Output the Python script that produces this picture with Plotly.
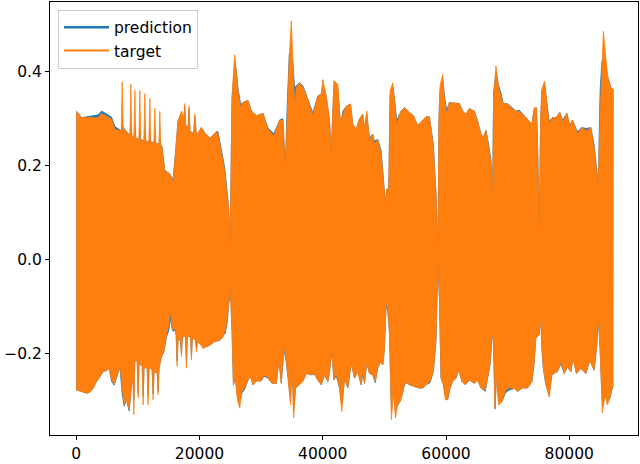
import plotly.graph_objects as go

# ================= upper envelope =================
up_x_a = [0, 870, 3560, 4110, 4920, 5730, 6270, 6970]
up_t_a = [0.316, 0.302, 0.302, 0.311, 0.305, 0.299, 0.277, 0.274]
up_p_a = [0.316, 0.302, 0.308, 0.316, 0.310, 0.303, 0.283, 0.276]

up_x_b = [7300, 7450, 7600, 8160, 8710, 8860, 9010, 9360, 9510, 9660, 10170, 10320, 10470, 10980, 11130,
          11280, 11790, 11940, 12090, 12600, 12750, 12900, 13410, 13560, 13710, 13880]
up_t_b = [0.274, 0.378, 0.280, 0.272, 0.265, 0.373, 0.262, 0.260, 0.360, 0.258, 0.256, 0.360, 0.255, 0.253, 0.353,
          0.252, 0.250, 0.343, 0.250, 0.249, 0.322, 0.248, 0.245, 0.315, 0.243, 0.242]
up_p_b = [0.274, 0.290, 0.282, 0.272, 0.265, 0.290, 0.262, 0.260, 0.285, 0.258, 0.256, 0.280, 0.255, 0.253, 0.275,
          0.252, 0.250, 0.270, 0.250, 0.249, 0.265, 0.248, 0.245, 0.260, 0.243, 0.242]

up_x_c = [14370, 15180, 15710, 16150, 16520, 17070, 17460, 17610, 17760, 18160, 18310, 18460, 19080, 19230,
          19380, 19500, 20310, 20850, 21660, 22740, 23000, 23550, 24090, 24460, 24740, 24950]
up_t_c = [0.189, 0.182, 0.165, 0.235, 0.295, 0.316, 0.300, 0.332, 0.285, 0.282, 0.327, 0.272, 0.270, 0.310,
          0.266, 0.264, 0.281, 0.270, 0.258, 0.272, 0.267, 0.225, 0.189, 0.140, 0.108, 0.020]
up_p_c = [0.190, 0.182, 0.170, 0.235, 0.295, 0.310, 0.300, 0.325, 0.285, 0.282, 0.320, 0.272, 0.270, 0.305,
          0.266, 0.264, 0.281, 0.270, 0.258, 0.272, 0.272, 0.232, 0.196, 0.146, 0.112, 0.025]

up_x_d = [25150, 25280, 25710, 25980, 26250, 26680, 27060, 27860, 28410, 29220, 30300, 31100, 32080, 33000,
          33530, 33920, 34240, 34570, 34890, 35160, 35430, 35700, 36240, 36770, 37580, 38390, 39200, 39750,
          40010, 40560, 41100, 41370, 41800, 42440, 42880, 43250, 43800, 44500, 44870, 45420, 45960, 46490,
          46770, 47140, 47580, 48110, 48390, 48920, 49470, 49850, 50170, 50380, 50710]
up_t_d = [0.300, 0.345, 0.436, 0.398, 0.359, 0.323, 0.334, 0.339, 0.316, 0.306, 0.311, 0.278, 0.263, 0.297,
          0.296, 0.189, 0.334, 0.429, 0.508, 0.419, 0.330, 0.366, 0.376, 0.366, 0.341, 0.306, 0.348, 0.352,
          0.383, 0.348, 0.295, 0.218, 0.381, 0.373, 0.288, 0.309, 0.326, 0.331, 0.288, 0.278, 0.299, 0.309,
          0.278, 0.316, 0.253, 0.267, 0.246, 0.256, 0.225, 0.168, 0.112, 0.150, 0.152]
up_p_d = [0.300, 0.345, 0.420, 0.400, 0.365, 0.330, 0.334, 0.339, 0.316, 0.306, 0.311, 0.280, 0.268, 0.297,
          0.300, 0.195, 0.334, 0.438, 0.430, 0.420, 0.365, 0.370, 0.376, 0.370, 0.341, 0.312, 0.348, 0.352,
          0.370, 0.348, 0.295, 0.225, 0.370, 0.365, 0.288, 0.315, 0.326, 0.331, 0.288, 0.278, 0.299, 0.309,
          0.278, 0.310, 0.258, 0.267, 0.252, 0.256, 0.232, 0.176, 0.118, 0.150, 0.152]

up_x_e = [50930, 51350, 51680, 52000, 52710, 53250, 54060, 54710, 55400, 56120, 56770, 57300, 57570, 57950,
          58380, 58680, 58850, 59030, 59460, 59730, 60100, 60540, 61350, 62160, 62700, 63240, 63780, 64590,
          65120, 65670, 66050, 66480, 66910, 67290, 67550, 67720, 68100, 68530, 68910, 69290, 69980, 70530,
          71340, 71880, 72690, 73500, 73940, 74310, 74680, 74910, 75120, 75350, 75560, 75980, 76300, 76740,
          77270, 77820, 78470, 78890, 79610, 80090, 80520, 81320, 82040, 82780, 83490, 84030, 84470, 84680,
          85000, 85280, 85540, 85920, 86350, 86730, 87110]
up_t_e = [0.359, 0.376, 0.334, 0.288, 0.316, 0.323, 0.313, 0.306, 0.285, 0.295, 0.304, 0.304, 0.281, 0.239,
          0.133, 0.000, 0.300, 0.369, 0.394, 0.345, 0.309, 0.334, 0.333, 0.332, 0.316, 0.309, 0.321, 0.316,
          0.295, 0.267, 0.260, 0.275, 0.239, 0.203, 0.119, 0.341, 0.412, 0.366, 0.348, 0.331, 0.332, 0.323,
          0.316, 0.315, 0.306, 0.295, 0.288, 0.323, 0.323, 0.210, 0.030, 0.300, 0.362, 0.380, 0.334, 0.288,
          0.302, 0.302, 0.313, 0.292, 0.311, 0.285, 0.297, 0.267, 0.281, 0.274, 0.281, 0.239, 0.182, 0.150,
          0.309, 0.415, 0.486, 0.429, 0.380, 0.366, 0.362]
up_p_e = [0.350, 0.370, 0.338, 0.296, 0.316, 0.323, 0.313, 0.306, 0.285, 0.295, 0.304, 0.304, 0.281, 0.245,
          0.140, 0.005, 0.300, 0.360, 0.385, 0.350, 0.318, 0.334, 0.333, 0.332, 0.316, 0.309, 0.321, 0.316,
          0.295, 0.267, 0.260, 0.275, 0.245, 0.212, 0.125, 0.355, 0.400, 0.370, 0.355, 0.331, 0.332, 0.326,
          0.316, 0.318, 0.306, 0.295, 0.288, 0.320, 0.323, 0.218, 0.035, 0.300, 0.360, 0.375, 0.338, 0.294,
          0.302, 0.302, 0.313, 0.297, 0.311, 0.285, 0.297, 0.272, 0.281, 0.279, 0.281, 0.245, 0.190, 0.155,
          0.360, 0.420, 0.430, 0.395, 0.385, 0.366, 0.362]

# ================= lower envelope =================
lo_x_a = [0, 600, 1680, 2220, 2750, 3300, 3840, 4370, 4920, 5350, 5730, 6160, 6640, 7080]
lo_t_a = [-0.277, -0.280, -0.284, -0.282, -0.273, -0.259, -0.249, -0.238, -0.236, -0.231, -0.256, -0.265, -0.245, -0.225]
lo_p_a = [-0.277, -0.280, -0.284, -0.282, -0.273, -0.259, -0.249, -0.238, -0.236, -0.231, -0.259, -0.267, -0.245, -0.228]

lo_x_b = [7450, 7780, 8160, 8590, 8970, 9200, 9350, 9500, 9890, 10040, 10190, 10700, 10850, 11000, 11510,
          11660, 11810, 12320, 12470, 12620, 13130, 13280, 13430, 13830]
lo_t_b = [-0.273, -0.309, -0.298, -0.319, -0.266, -0.250, -0.330, -0.215, -0.215, -0.294, -0.222, -0.225, -0.309, -0.230, -0.230,
          -0.309, -0.228, -0.235, -0.298, -0.240, -0.240, -0.287, -0.231, -0.206]
lo_p_b = [-0.285, -0.312, -0.298, -0.322, -0.266, -0.250, -0.300, -0.215, -0.215, -0.285, -0.222, -0.225, -0.290, -0.230, -0.230,
          -0.290, -0.228, -0.235, -0.285, -0.240, -0.240, -0.280, -0.231, -0.206]

lo_x_c = [14210, 14640, 15020, 15290, 15620, 15990, 16210, 16360, 16510, 16920, 17070, 17220, 17730, 17880, 18030,
          18540, 18690, 18840, 19350, 19500, 19650, 20040, 20570, 21120, 21660, 22470, 23280, 23810, 24200, 24530,
          24740, 25010]
lo_t_c = [-0.196, -0.160, -0.139, -0.111, -0.150, -0.146, -0.160, -0.227, -0.170, -0.172, -0.206, -0.165, -0.162, -0.231, -0.162,
          -0.165, -0.213, -0.167, -0.170, -0.196, -0.175, -0.178, -0.189, -0.185, -0.182, -0.174, -0.172, -0.164, -0.150, -0.125,
          -0.090, -0.061]
lo_p_c = [-0.196, -0.165, -0.150, -0.125, -0.152, -0.150, -0.160, -0.215, -0.170, -0.172, -0.200, -0.165, -0.162, -0.220, -0.162,
          -0.165, -0.205, -0.167, -0.170, -0.190, -0.175, -0.178, -0.185, -0.185, -0.182, -0.174, -0.172, -0.164, -0.156, -0.130,
          -0.095, -0.065]

lo_x_d = [25280, 25500, 25820, 26150, 26520, 26890, 27330, 27860, 28300, 28670, 29220, 30030, 30460, 31100, 31750,
          32460, 32890, 33270, 33700, 34080, 34460, 34780, 34990, 35270, 35590, 36240, 36770, 37320, 38130, 38670,
          39200, 39750, 40290, 40820, 41100, 41470, 41800, 42180, 42720, 43090, 43530, 44060, 44610, 45150, 45680,
          46230, 46490, 46770, 47140, 47580, 48110, 48510, 48920, 49310, 49740, 50010, 50280, 50540, 50820]
lo_t_d = [-0.153, -0.266, -0.252, -0.298, -0.316, -0.280, -0.273, -0.256, -0.249, -0.266, -0.258, -0.258, -0.245, -0.252, -0.263,
          -0.263, -0.213, -0.263, -0.185, -0.213, -0.259, -0.309, -0.210, -0.337, -0.273, -0.266, -0.259, -0.242, -0.245, -0.244,
          -0.256, -0.266, -0.245, -0.259, -0.238, -0.189, -0.256, -0.242, -0.273, -0.323, -0.252, -0.273, -0.220, -0.252, -0.238,
          -0.266, -0.238, -0.263, -0.220, -0.242, -0.245, -0.259, -0.231, -0.217, -0.224, -0.189, -0.090, -0.104, -0.153]
lo_p_d = [-0.153, -0.266, -0.252, -0.290, -0.300, -0.283, -0.276, -0.256, -0.249, -0.266, -0.258, -0.258, -0.248, -0.252, -0.263,
          -0.263, -0.213, -0.263, -0.190, -0.218, -0.259, -0.300, -0.210, -0.320, -0.273, -0.266, -0.259, -0.242, -0.245, -0.244,
          -0.256, -0.266, -0.245, -0.259, -0.238, -0.195, -0.256, -0.247, -0.273, -0.310, -0.252, -0.273, -0.220, -0.252, -0.238,
          -0.266, -0.243, -0.263, -0.220, -0.242, -0.245, -0.262, -0.231, -0.217, -0.224, -0.189, -0.095, -0.110, -0.153]

lo_x_e = [51140, 51470, 51790, 52160, 52550, 52880, 53250, 53620, 54060, 54870, 55680, 56210, 56770, 57410, 57950,
          58380, 58680, 58920, 59190, 59570, 59890, 60260, 60650, 61070, 61620, 62050, 62600, 63130, 63780, 64590,
          65120, 65670, 66370, 66740, 67130, 67460, 67670, 67940, 68200, 68530, 69080, 69610, 70150, 71070, 71600,
          72410, 73220, 73940, 74310, 74580, 75120, 75390, 75560, 75770, 76200, 76740, 77180, 77550, 78080, 78630,
          79170, 79700, 80250, 80630, 81160, 81870, 82680, 83330, 84030, 84470, 84730, 85000, 85370, 85810, 86180,
          86570, 87000, 87110]
lo_t_e = [-0.340, -0.280, -0.337, -0.309, -0.302, -0.287, -0.266, -0.259, -0.266, -0.270, -0.273, -0.273, -0.266, -0.259, -0.238,
          -0.167, -0.000, -0.076, -0.252, -0.266, -0.298, -0.298, -0.273, -0.259, -0.252, -0.235, -0.259, -0.266, -0.256, -0.263,
          -0.256, -0.273, -0.277, -0.252, -0.224, -0.167, -0.157, -0.316, -0.245, -0.309, -0.302, -0.280, -0.273, -0.274, -0.280,
          -0.273, -0.273, -0.259, -0.217, -0.167, -0.160, -0.121, -0.184, -0.226, -0.266, -0.293, -0.245, -0.242, -0.238, -0.217,
          -0.242, -0.228, -0.238, -0.210, -0.242, -0.231, -0.242, -0.214, -0.235, -0.182, -0.121, -0.191, -0.326, -0.287, -0.309,
          -0.295, -0.273, -0.270]
lo_p_e = [-0.320, -0.280, -0.320, -0.309, -0.302, -0.287, -0.266, -0.262, -0.266, -0.270, -0.273, -0.273, -0.266, -0.262, -0.238,
          -0.172, -0.005, -0.080, -0.252, -0.266, -0.290, -0.298, -0.273, -0.259, -0.252, -0.235, -0.259, -0.266, -0.256, -0.263,
          -0.256, -0.273, -0.280, -0.252, -0.224, -0.167, -0.157, -0.318, -0.245, -0.300, -0.302, -0.284, -0.278, -0.274, -0.280,
          -0.273, -0.273, -0.259, -0.217, -0.167, -0.160, -0.121, -0.190, -0.230, -0.266, -0.285, -0.245, -0.242, -0.238, -0.222,
          -0.242, -0.228, -0.238, -0.210, -0.242, -0.231, -0.242, -0.214, -0.235, -0.182, -0.125, -0.191, -0.310, -0.287, -0.300,
          -0.295, -0.273, -0.270]

x_ticks = [0, 20000, 40000, 60000, 80000]
y_ticks = [-0.2, 0.0, 0.2, 0.4]

BLUE = "#1f77b4"
ORANGE = "#ff7f0e"

upper_x = up_x_a + up_x_b + up_x_c + up_x_d + up_x_e
lower_x = lo_x_a + lo_x_b + lo_x_c + lo_x_d + lo_x_e
target_upper = up_t_a + up_t_b + up_t_c + up_t_d + up_t_e
pred_upper = up_p_a + up_p_b + up_p_c + up_p_d + up_p_e
target_lower = lo_t_a + lo_t_b + lo_t_c + lo_t_d + lo_t_e
pred_lower = lo_p_a + lo_p_b + lo_p_c + lo_p_d + lo_p_e


def band(up, lo):
    n_u = min(len(upper_x), len(up))
    n_l = min(len(lower_x), len(lo))
    return (upper_x[:n_u] + lower_x[:n_l][::-1], up[:n_u] + lo[:n_l][::-1])


fig = go.Figure()
bx, by = band(pred_upper, pred_lower)
fig.add_trace(go.Scatter(x=bx, y=by, fill="toself", fillcolor=BLUE, mode="lines",
                         line=dict(color=BLUE, width=0.8), showlegend=False, hoverinfo="skip"))
ox, oy = band(target_upper, target_lower)
fig.add_trace(go.Scatter(x=ox, y=oy, fill="toself", fillcolor=ORANGE, mode="lines",
                         line=dict(color=ORANGE, width=0.8), showlegend=False, hoverinfo="skip"))
# legend entries
fig.add_trace(go.Scatter(x=[None], y=[None], mode="lines", name="prediction",
                         line=dict(color=BLUE, width=2.5)))
fig.add_trace(go.Scatter(x=[None], y=[None], mode="lines", name="target",
                         line=dict(color=ORANGE, width=2)))

axis_common = dict(showgrid=False, zeroline=False, showline=True, mirror=True,
                   linecolor="black", linewidth=1, ticks="outside", ticklen=4,
                   tickcolor="black", tickwidth=1,
                   tickfont=dict(family="DejaVu Sans", size=15.5, color="black"))

fig.update_xaxes(range=[-4260, 91150], tickvals=x_ticks, ticktext=[str(v) for v in x_ticks],
                 **axis_common)
fig.update_yaxes(range=[-0.373, 0.548], tickvals=y_ticks, tickformat=".1f", **axis_common)

fig.update_layout(
    width=640, height=464,
    margin=dict(l=50, r=1, t=2, b=27),
    paper_bgcolor="white", plot_bgcolor="white",
    font=dict(family="DejaVu Sans", size=15.5, color="black"),
    legend=dict(x=0.0136, y=0.982, xanchor="left", yanchor="top",
                bgcolor="rgba(255,255,255,0.8)", bordercolor="#cccccc", borderwidth=1,
                font=dict(family="DejaVu Sans", size=15.5, color="black"),
                itemwidth=45),
    showlegend=True,
)

fig.write_html("out.html", config={"displayModeBar": False},
               post_script="document.body.style.margin='0';document.body.style.overflow='hidden';")
